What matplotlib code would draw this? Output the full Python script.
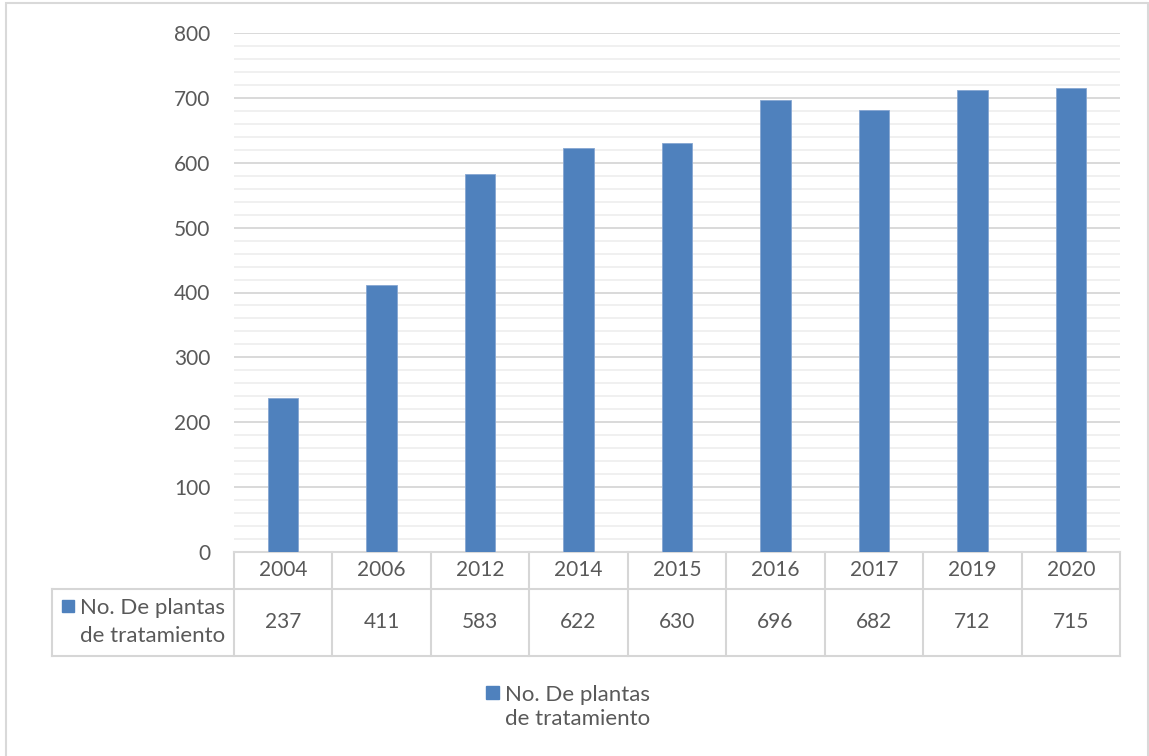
import matplotlib
matplotlib.use("Agg")
import matplotlib.pyplot as plt
from matplotlib.patches import Rectangle
from matplotlib.lines import Line2D
from matplotlib.transforms import blended_transform_factory

years = ["2004", "2006", "2012", "2014", "2015", "2016", "2017", "2019", "2020"]
plantas = [237, 411, 583, 622, 630, 696, 682, 712, 715]
series_label = "No. De plantas\nde tratamiento"

BAR = "#4F81BD"
TXT = "#595959"
GRID_MAJOR = "#d9d9d9"
GRID_MINOR = "#f0f0f0"
FS = 15
FS_LABEL = 16

plt.rcParams["font.family"] = ["Lato", "DejaVu Sans"]

W, H = 1149, 756
fig = plt.figure(figsize=(W / 100, H / 100), dpi=100)


def fx(px):
    return px / W


def fy(py):
    return 1 - py / H


ax = fig.add_axes([fx(234), fy(552), fx(1120) - fx(234), fy(33) - fy(552)])

x = list(range(len(years)))
ax.bar(x, plantas, width=0.31, color=BAR, edgecolor="#86a6d2", linewidth=0.6, zorder=3)

ax.set_xlim(-0.5, len(years) - 0.5)
ax.set_ylim(0, 800)
ax.set_yticks(range(0, 801, 100))
ax.set_yticks(range(0, 801, 20), minor=True)
ax.grid(axis="y", which="major", color=GRID_MAJOR, linewidth=1.4, zorder=1)
ax.grid(axis="y", which="minor", color=GRID_MINOR, linewidth=1.4, zorder=0)
ax.set_axisbelow(True)
ax.tick_params(axis="y", which="both", length=0, pad=17, labelsize=FS, labelcolor=TXT)
ax.tick_params(axis="x", which="both", length=0, labelbottom=False)
for s in ("top", "right", "left"):
    ax.spines[s].set_visible(False)
ax.spines["bottom"].set_color(GRID_MAJOR)
ax.spines["bottom"].set_linewidth(1.5)

# data table under the axis
axh = 552 - 33
axw = 1120 - 234
y_head = -(589 - 552) / axh
y_bot = -(656 - 552) / axh
x_left = (52 - 234) / axw
LINE = "#d6d6d6"
LW = 1.5

tr = blended_transform_factory(ax.transData, ax.transAxes)
for i in range(len(years) + 1):
    ax.add_line(Line2D([i - 0.5, i - 0.5], [0, y_bot], transform=tr, color=LINE,
                       lw=LW, clip_on=False))
for yy in (y_head, y_bot):
    ax.add_line(Line2D([x_left, 1], [yy, yy], transform=ax.transAxes, color=LINE,
                       lw=LW, clip_on=False))
ax.add_line(Line2D([x_left, x_left], [y_head, y_bot], transform=ax.transAxes, color=LINE,
                   lw=LW, clip_on=False))

for i, (yr, v) in enumerate(zip(years, plantas)):
    ax.text(i, y_head / 2, yr, transform=tr, ha="center", va="center",
            fontsize=FS, color=TXT, clip_on=False)
    ax.text(i, (y_head + y_bot) / 2, str(v), transform=tr, ha="center", va="center",
            fontsize=FS, color=TXT, clip_on=False)

# row header in the table
fig.patches.append(Rectangle((fx(62), fy(612)), fx(12), fy(600) - fy(612),
                             transform=fig.transFigure, color=BAR))
fig.text(fx(80), fy(622), series_label, ha="left", va="center", fontsize=FS_LABEL,
         color=TXT, linespacing=1.5)

# legend below the table
fig.patches.append(Rectangle((fx(486), fy(699)), fx(13), fy(686) - fy(699),
                             transform=fig.transFigure, color=BAR))
fig.text(fx(505), fy(707), series_label, ha="left", va="center", fontsize=FS_LABEL,
         color=TXT, linespacing=1.3)

# chart area frame
fig.patches.append(Rectangle((fx(6), fy(760)), fx(1148) - fx(6), fy(3) - fy(760),
                             transform=fig.transFigure, fill=False,
                             edgecolor="#d9d9d9", lw=1.5))

fig.savefig("out.png", dpi=100, facecolor="white")
